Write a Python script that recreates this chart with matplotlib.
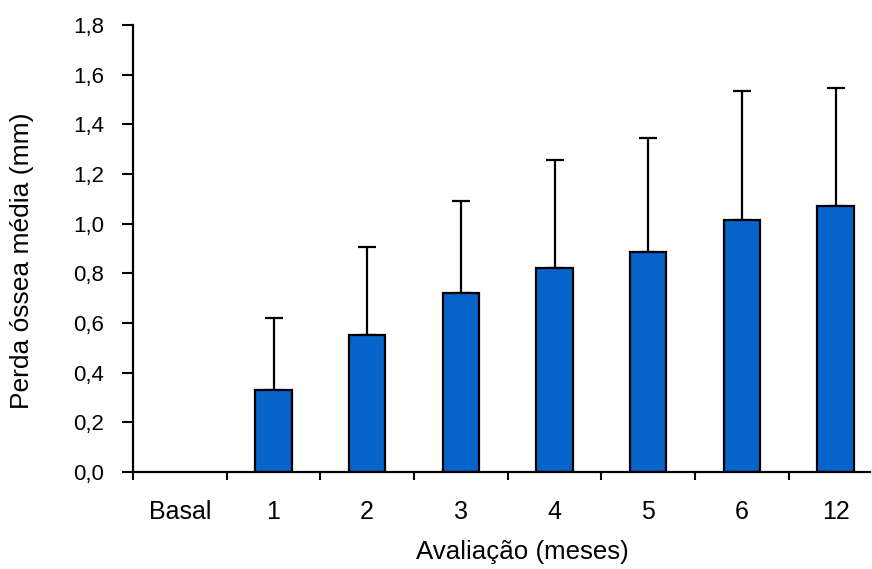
#!/usr/bin/env python3

import matplotlib
import matplotlib.pyplot as plt
import numpy as np

matplotlib.use("Agg")

plt.rcParams["font.family"] = ["Liberation Sans", "DejaVu Sans"]

# Mean bone loss per follow-up visit, with upper SD whiskers
categories = ["Basal", "1", "2", "3", "4", "5", "6", "12"]
mean_loss = [0.0, 0.33, 0.55, 0.72, 0.82, 0.885, 1.015, 1.07]
std_loss = [0.0, 0.29, 0.355, 0.37, 0.435, 0.46, 0.52, 0.475]

bar_color = "#0563C9"

fig = plt.figure(figsize=(8.72, 5.69), dpi=100)
ax = fig.add_axes([0.1525, 0.1705, 0.8455, 0.7855])

x = np.arange(len(categories))
heights = np.array(mean_loss)
errs = np.array(std_loss)
has_bar = heights > 0

ax.bar(x[has_bar], heights[has_bar], width=0.39, color=bar_color,
       edgecolor="black", linewidth=1.6, zorder=2)
ax.errorbar(x[has_bar], heights[has_bar],
            yerr=[np.zeros(has_bar.sum()), errs[has_bar]],
            fmt="none", ecolor="black", elinewidth=1.6, capsize=6.5,
            capthick=1.6, zorder=1)

ax.set_xlim(-0.5, 7.37)
ax.set_ylim(0, 1.8)

# y ticks with comma decimal separator
yticks = np.arange(0, 1.81, 0.2)
ax.set_yticks(yticks)
ax.set_yticklabels([f"{v:.1f}".replace(".", ",") for v in yticks], fontsize=16)
ax.tick_params(axis="y", direction="out", length=8, width=1.5, pad=13)

# boundary ticks on x, category names centred between them
ax.set_xticks(np.arange(-0.5, 7.0, 1.0))
ax.set_xticklabels([])
ax.set_xticks(x, minor=True)
ax.set_xticklabels(categories, minor=True, fontsize=18)
ax.tick_params(axis="x", which="major", direction="out", length=6, width=1.5)
ax.tick_params(axis="x", which="minor", length=0, pad=20)

for side in ("top", "right"):
    ax.spines[side].set_visible(False)
for side in ("left", "bottom"):
    ax.spines[side].set_linewidth(1.6)

ax.set_xlabel("Avaliação (meses)", fontsize=18.6)
ax.set_ylabel("Perda óssea média (mm)", fontsize=19)
ax.xaxis.set_label_coords(0.528, -0.152)
ax.yaxis.set_label_coords(-0.134, 0.472)

fig.savefig("out.png", dpi=100)
